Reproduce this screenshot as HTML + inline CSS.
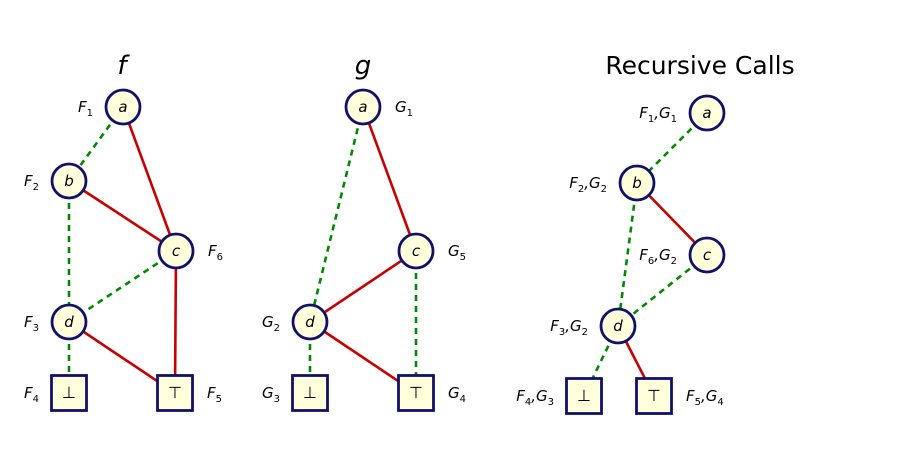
<!DOCTYPE html>
<html><head><meta charset="utf-8"><style>
html,body{margin:0;padding:0;background:#fff;width:906px;height:452px;overflow:hidden}
svg{display:block}
text{font-family:"DejaVu Sans","Liberation Sans",sans-serif}
</style></head><body>
<svg id="svg" width="906" height="452" viewBox="0 0 906 452">
<text x="122" y="74" font-size="26" font-style="italic" text-anchor="middle">f</text>
<text x="363" y="74" font-size="26" font-style="italic" text-anchor="middle">g</text>
<text x="700" y="74" font-size="25" text-anchor="middle">Recursive Calls</text>
</svg>
<script>
// graphs: nodes [id, x, y, type, symbol, label, labelSide]
const fNodes=[["a",123,107,"c","a","F|1","l"],["b",69,181,"c","b","F|2","l"],["c",176,251,"c","c","F|6","r"],["d",69,322,"c","d","F|3","l"],["bot",69,393,"s","⊥","F|4","l"],["top",175,393,"s","⊤","F|5","r"]];
const fEdges=[["a","b","g"],["a","c","r"],["b","c","r"],["b","d","g"],["c","d","g"],["c","top","r"],["d","bot","g"],["d","top","r"]];
const gNodes=[["a",363,107,"c","a","G|1","r"],["c",416,251,"c","c","G|5","r"],["d",310,322,"c","d","G|2","l"],["bot",310,393,"s","⊥","G|3","l"],["top",416,393,"s","⊤","G|4","r"]];
const gEdges=[["a","d","g"],["a","c","r"],["c","d","r"],["c","top","g"],["d","bot","g"],["d","top","r"]];
const rNodes=[["a",707,113,"c","a","F|1,G|1","l"],["b",637,183,"c","b","F|2,G|2","l"],["c",707,255,"c","c","F|6,G|2","l"],["d",618,326,"c","d","F|3,G|2","l"],["bot",584,396,"s","⊥","F|4,G|3","l"],["top",654,396,"s","⊤","F|5,G|4","r"]];
const rEdges=[["a","b","g"],["b","c","r"],["b","d","g"],["c","d","g"],["d","bot","g"],["d","top","r"]];
const svg=document.getElementById('svg');const NS="http://www.w3.org/2000/svg";
function mk(t,a){const e=document.createElementNS(NS,t);for(const k in a)e.setAttribute(k,a[k]);svg.appendChild(e);return e;}
function draw(nodes,edges,pre){
 const m={};nodes.forEach(n=>m[n[0]]=n);
 edges.forEach(e=>{const A=m[e[0]],B=m[e[1]];
  const l=mk('line',{x1:A[1],y1:A[2],x2:B[1],y2:B[2],stroke:e[2]=="g"?"#008a00":"#c80000","stroke-width":2.6,"stroke-dasharray":e[2]=="g"?"6,5":"none"});
  
  });
 nodes.forEach(n=>{let s;
  if(n[3]=="c")s=mk('circle',{cx:n[1],cy:n[2],r:17,fill:"#ffffdc",stroke:"#11116a","stroke-width":2.8});
  else s=mk('rect',{x:n[1]-17.5,y:n[2]-17.5,width:35,height:35,fill:"#ffffdc",stroke:"#11116a","stroke-width":2.8});
  
  
  const t=mk('text',{x:n[1],y:n[2]+5,"font-size":n[3]=="c"?15:16,"font-style":n[3]=="c"?"italic":"normal","text-anchor":"middle"});t.textContent=n[4];
  
  
  const lb=mk('text',{x:n[6]=="l"?n[1]-30:n[1]+32,y:n[2]+5,"font-size":15,"font-style":"italic","text-anchor":n[6]=="l"?"end":"start"});
  n[5].split(",").forEach((p,i)=>{const q=p.split("|");
   const a=document.createElementNS(NS,'tspan');a.textContent=(i?",":"")+q[0];if(i)a.setAttribute('dx','0');lb.appendChild(a);
   const b=document.createElementNS(NS,'tspan');b.setAttribute('font-size','10');b.setAttribute('font-style','normal');b.setAttribute('dy','4');b.textContent=q[1];lb.appendChild(b);
   const c=document.createElementNS(NS,'tspan');c.setAttribute('dy','-4');c.textContent="\u200b";lb.appendChild(c);});
  
  });
}
draw(fNodes,fEdges,'f');draw(gNodes,gEdges,'g');draw(rNodes,rEdges,'rec');
</script>
</body></html>
